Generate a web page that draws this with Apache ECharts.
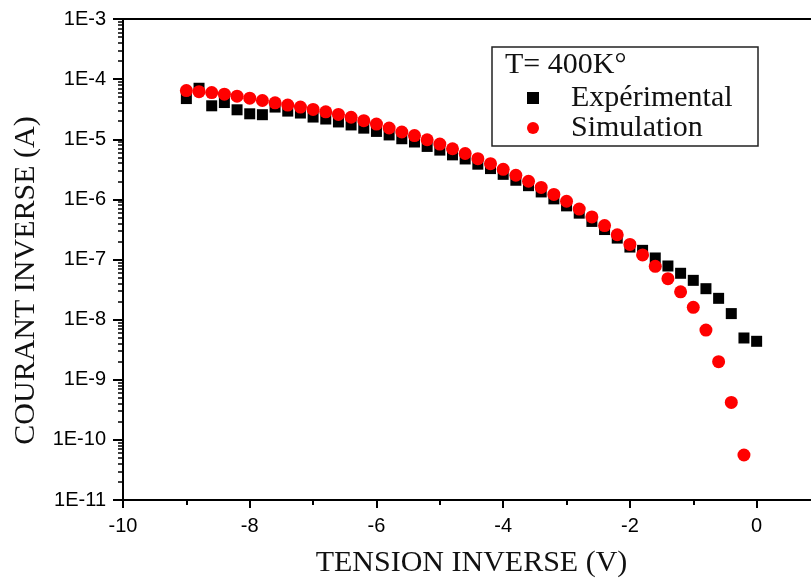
<!DOCTYPE html>
<html>
<head>
<meta charset="utf-8">
<style>
  html, body { margin: 0; padding: 0; background: #fff; overflow: hidden; }
  #chart { width: 821px; height: 583px; }
</style>
<script src="https://cdn.jsdelivr.net/npm/echarts@6/dist/echarts.min.js"></script>
</head>
<body>
<div id="chart"></div>
<script>
// Reverse bias voltage (V)
const voltageExp = [-9.0, -8.8, -8.6, -8.4, -8.2, -8.0, -7.8, -7.6, -7.4, -7.2, -7.0, -6.8, -6.6, -6.4, -6.2, -6.0,
  -5.8, -5.6, -5.4, -5.2, -5.0, -4.8, -4.6, -4.4, -4.2, -4.0, -3.8, -3.6, -3.4, -3.2, -3.0, -2.8, -2.6, -2.4,
  -2.2, -2.0, -1.8, -1.6, -1.4, -1.2, -1.0, -0.8, -0.6, -0.4, -0.2, 0.0];
// Measured reverse current (A)
const currentExp = [4.75e-5, 7.05e-5, 3.6e-5, 4.08e-5, 3.09e-5, 2.65e-5, 2.56e-5, 3.43e-5, 2.94e-5, 2.73e-5,
  2.34e-5, 2.17e-5, 1.94e-5, 1.73e-5, 1.53e-5, 1.35e-5, 1.18e-5, 1.02e-5, 9.0e-6, 7.6e-6, 6.6e-6, 5.5e-6,
  4.7e-6, 3.85e-6, 3.25e-6, 2.61e-6, 2.08e-6, 1.69e-6, 1.33e-6, 1.02e-6, 7.8e-7, 5.9e-7, 4.3e-7, 3.15e-7,
  2.27e-7, 1.61e-7, 1.42e-7, 1.06e-7, 7.8e-8, 5.9e-8, 4.5e-8, 3.27e-8, 2.26e-8, 1.26e-8, 4.95e-9, 4.36e-9];

const voltageSim = [-9.0, -8.8, -8.6, -8.4, -8.2, -8.0, -7.8, -7.6, -7.4, -7.2, -7.0, -6.8, -6.6, -6.4, -6.2, -6.0,
  -5.8, -5.6, -5.4, -5.2, -5.0, -4.8, -4.6, -4.4, -4.2, -4.0, -3.8, -3.6, -3.4, -3.2, -3.0, -2.8, -2.6, -2.4,
  -2.2, -2.0, -1.8, -1.6, -1.4, -1.2, -1.0, -0.8, -0.6, -0.4, -0.2];
// Simulated reverse current (A)
const currentSim = [6.44e-5, 6.19e-5, 5.97e-5, 5.61e-5, 5.2e-5, 4.82e-5, 4.41e-5, 4.04e-5, 3.7e-5, 3.43e-5,
  3.13e-5, 2.86e-5, 2.59e-5, 2.32e-5, 2.04e-5, 1.79e-5, 1.54e-5, 1.32e-5, 1.15e-5, 9.8e-6, 8.3e-6, 6.95e-6,
  5.8e-6, 4.75e-6, 3.93e-6, 3.16e-6, 2.52e-6, 2.0e-6, 1.58e-6, 1.21e-6, 9.3e-7, 6.9e-7, 5.1e-7, 3.66e-7,
  2.58e-7, 1.78e-7, 1.19e-7, 7.7e-8, 4.8e-8, 2.9e-8, 1.6e-8, 6.7e-9, 2.0e-9, 4.2e-10, 5.6e-11];

const xMajorTicks = [-10, -8, -6, -4, -2, 0];
const xMinorTicks = [-9, -7, -5, -3, -1];
const yDecades = [-11, -10, -9, -8, -7, -6, -5, -4, -3];

const seriesNames = ['Expérimental', 'Simulation'];
const legendTitle = 'T= 400K°';

// log-spaced minor ticks (2..9 × 10^n) expressed as exponents
const yMinorTicks = [];
for (let i = 0; i < yDecades.length - 1; i++) {
  for (let k = 2; k <= 9; k++) yMinorTicks.push(yDecades[i] + Math.log10(k));
}

const zip = (xs, ys) => xs.map((x, i) => [x, ys[i]]);

const chart = echarts.init(document.getElementById('chart'), null, { renderer: 'canvas' });

const sansFont = "'Liberation Sans', Arial, sans-serif";
const serifFont = "'Liberation Serif', 'Times New Roman', serif";

chart.setOption({
  animation: false,
  backgroundColor: '#fff',
  grid: {
    left: 123, top: 19, right: 1, bottom: 80,
    show: true, borderColor: '#000', borderWidth: 2, backgroundColor: 'transparent'
  },
  xAxis: [{
    type: 'value', min: -10, max: 1, interval: 2,
    name: 'TENSION INVERSE (V)', nameLocation: 'middle', nameGap: 48,
    nameTextStyle: { fontFamily: serifFont, fontSize: 30, color: '#111' },
    axisLine: { show: true, onZero: false, lineStyle: { color: '#000', width: 2 } },
    axisTick: { show: true, inside: false, length: 8, customValues: xMajorTicks, lineStyle: { color: '#000', width: 2 } },
    axisLabel: { customValues: xMajorTicks, margin: 16, fontFamily: sansFont, fontSize: 20, color: '#000' },
    splitLine: { show: false }
  }, {
    type: 'value', min: -10, max: 1, position: 'bottom',
    axisLine: { show: false, onZero: false },
    axisTick: { show: true, inside: false, length: 5, customValues: xMinorTicks, lineStyle: { color: '#000', width: 2 } },
    axisLabel: { show: false },
    splitLine: { show: false }
  }],
  yAxis: [{
    type: 'log', logBase: 10, min: 1e-11, max: 1e-3, interval: 1, position: 'left',
    name: 'COURANT INVERSE (A)', nameLocation: 'middle', nameGap: 82, nameRotate: 90,
    nameTextStyle: { fontFamily: serifFont, fontSize: 30, color: '#111', padding: [0, 42, 0, 0] },
    axisLine: { show: true, onZero: false, lineStyle: { color: '#000', width: 2 } },
    axisTick: { show: true, inside: false, length: 10, lineStyle: { color: '#000', width: 2 } },
    axisLabel: {
      margin: 17, fontFamily: sansFont, fontSize: 20, color: '#000',
      formatter: v => '1E' + Math.round(Math.log10(v))
    },
    splitLine: { show: false },
    minorTick: { show: false }
  }, {
    type: 'value', min: -11, max: -3, position: 'left',
    axisLine: { show: false, onZero: false },
    axisTick: { show: true, inside: false, length: 5, customValues: yMinorTicks, lineStyle: { color: '#000', width: 1.5 } },
    axisLabel: { show: false },
    splitLine: { show: false }
  }],
  legend: {
    orient: 'vertical', left: 527, top: 83, padding: 0, itemGap: 0,
    itemWidth: 12, itemHeight: 12,
    data: [
      { name: seriesNames[0], icon: 'rect' },
      { name: seriesNames[1], icon: 'circle' }
    ],
    textStyle: { fontFamily: serifFont, fontSize: 30, lineHeight: 30, color: '#111', padding: [0, 0, 0, 27] }
  },
  graphic: [{
    type: 'rect', z: 10,
    shape: { x: 492, y: 47, width: 266, height: 99 },
    style: { fill: 'none', stroke: '#222', lineWidth: 1.5 }
  }, {
    type: 'text', z: 10, x: 505, y: 65,
    style: { text: legendTitle, font: '30px ' + serifFont, fill: '#111', verticalAlign: 'middle', align: 'left' }
  }],
  series: [{
    name: seriesNames[0], type: 'scatter', xAxisIndex: 0, yAxisIndex: 0,
    symbol: 'rect', symbolSize: 11,
    itemStyle: { color: '#000', opacity: 1 },
    data: zip(voltageExp, currentExp)
  }, {
    name: seriesNames[1], type: 'scatter', xAxisIndex: 0, yAxisIndex: 0,
    symbol: 'circle', symbolSize: 13,
    itemStyle: { color: '#ff0000', opacity: 1 },
    data: zip(voltageSim, currentSim)
  }]
});
</script>
</body>
</html>
